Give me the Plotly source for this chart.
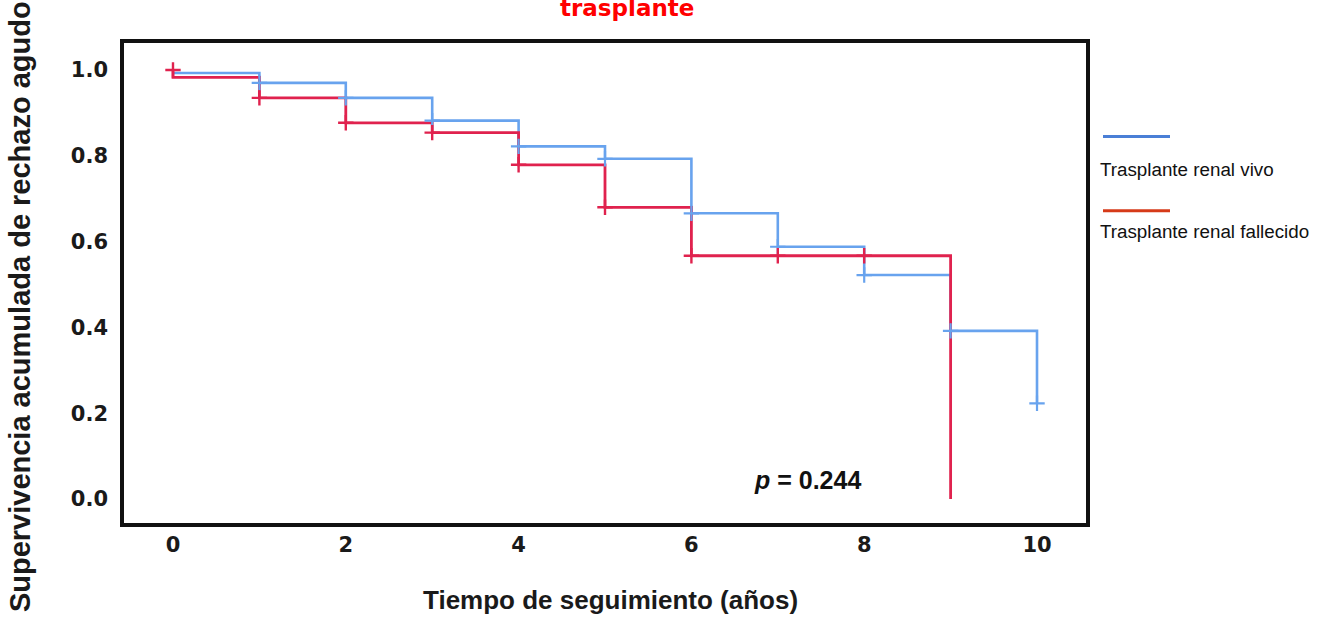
import plotly.graph_objects as go

# Kaplan-Meier step estimates (years of follow-up vs cumulative survival)
vivo_t = [0, 1, 2, 3, 4, 5, 6, 7, 8, 9, 10]
vivo_s = [0.993, 0.970, 0.935, 0.882, 0.822, 0.793, 0.666, 0.588, 0.522, 0.392, 0.223]
vivo_cens_t = [1, 2, 3, 4, 5, 6, 7, 8, 9, 10]

fall_t = [0, 0, 1, 2, 3, 4, 5, 6, 7, 8, 9]
fall_s = [1.0, 0.983, 0.935, 0.877, 0.854, 0.779, 0.680, 0.567, 0.567, 0.567, 0.0]
fall_cens_t = [0, 1, 2, 3, 4, 5, 6, 7, 8]

x_ticks = [0, 2, 4, 6, 8, 10]
y_ticks = [0.0, 0.2, 0.4, 0.6, 0.8, 1.0]

p_value = 0.244

BLUE = "#68A3EE"
RED = "#E0224E"


def value_at(times, surv, t):
    """Survival value reached at time t (last point with that time)."""
    v = None
    for ti, si in zip(times, surv):
        if ti == t:
            v = si
    return v


fig = go.Figure()

fig.add_trace(go.Scatter(
    x=vivo_t, y=vivo_s, mode="lines", line_shape="hv",
    line=dict(color=BLUE, width=2.6), showlegend=False,
    name="Trasplante renal vivo"))
fig.add_trace(go.Scatter(
    x=fall_t, y=fall_s, mode="lines", line_shape="hv",
    line=dict(color=RED, width=2.8), showlegend=False,
    name="Trasplante renal fallecido"))

# Censoring marks
fig.add_trace(go.Scatter(
    x=vivo_cens_t, y=[value_at(vivo_t, vivo_s, t) for t in vivo_cens_t],
    mode="markers", showlegend=False,
    marker=dict(symbol="cross-thin", size=11, line=dict(color=BLUE, width=2.2))))
fall_cens_y = [value_at(fall_t, fall_s, t) for t in fall_cens_t]
fall_cens_y[0] = fall_s[0]
fig.add_trace(go.Scatter(
    x=fall_cens_t, y=fall_cens_y,
    mode="markers", showlegend=False,
    marker=dict(symbol="cross-thin", size=11, line=dict(color=RED, width=2.4))))

tick_font = dict(family="DejaVu Sans", size=21, color="#1a1a1a", weight="bold")

fig.update_xaxes(
    range=[-0.567, 10.567], tickvals=x_ticks, ticktext=[str(v) for v in x_ticks],
    showgrid=False, zeroline=False, ticks="", tickfont=tick_font,
    showline=True, mirror=True, linecolor="#111", linewidth=3.5,
    ticklabelstandoff=0)
fig.update_yaxes(
    range=[-0.056, 1.063], tickvals=y_ticks, ticktext=[f"{v:.1f}" for v in y_ticks],
    showgrid=False, zeroline=False, ticks="", tickfont=tick_font,
    showline=True, mirror=True, linecolor="#111", linewidth=3.5,
    ticklabelstandoff=8)

annotations = [
    dict(text="trasplante", xref="paper", yref="paper", x=0.523, y=1.073,
         xanchor="center", yanchor="middle", showarrow=False,
         font=dict(family="DejaVu Sans", size=23, color="#FF0000", weight="bold")),
    dict(text="Supervivencia acumulada de rechazo agudo", xref="paper", yref="paper",
         x=-0.108, y=0.450, textangle=-90, xanchor="center", yanchor="middle",
         showarrow=False,
         font=dict(family="Liberation Sans", size=29, color="#1a1a1a", weight="bold")),
    dict(text="Tiempo de seguimiento (años)", xref="paper", yref="paper",
         x=0.506, y=-0.160, xanchor="center", yanchor="middle", showarrow=False,
         font=dict(family="Liberation Sans", size=26, color="#1a1a1a", weight="bold")),
    dict(text=f"<i>p</i> = {p_value}", xref="x", yref="y", x=7.34, y=0.044,
         xanchor="center", yanchor="middle", showarrow=False,
         font=dict(family="Liberation Sans", size=25, color="#111", weight="bold")),
    dict(text="Trasplante renal vivo", xref="paper", yref="paper",
         x=(1098 - 124) / 962, y=(523 - 170) / 480, xanchor="left", yanchor="middle",
         showarrow=False, font=dict(family="Liberation Sans", size=18.8, color="#111")),
    dict(text="Trasplante renal fallecido", xref="paper", yref="paper",
         x=(1098 - 124) / 962, y=(523 - 231) / 480, xanchor="left", yanchor="middle",
         showarrow=False, font=dict(family="Liberation Sans", size=18.8, color="#111")),
]

# Legend swatches
shapes = [
    dict(type="line", xref="paper", yref="paper",
         x0=(1103 - 124) / 962, x1=(1170 - 124) / 962,
         y0=(523 - 136.5) / 480, y1=(523 - 136.5) / 480,
         line=dict(color="#4A7FD6", width=3)),
    dict(type="line", xref="paper", yref="paper",
         x0=(1103 - 124) / 962, x1=(1170 - 124) / 962,
         y0=(523 - 210.7) / 480, y1=(523 - 210.7) / 480,
         line=dict(color="#D63A18", width=3)),
]

fig.update_layout(
    width=1317, height=617,
    margin=dict(l=124, r=231, t=43, b=94),
    paper_bgcolor="white", plot_bgcolor="white",
    annotations=annotations, shapes=shapes, showlegend=False,
)

fig.write_html("out.html")
